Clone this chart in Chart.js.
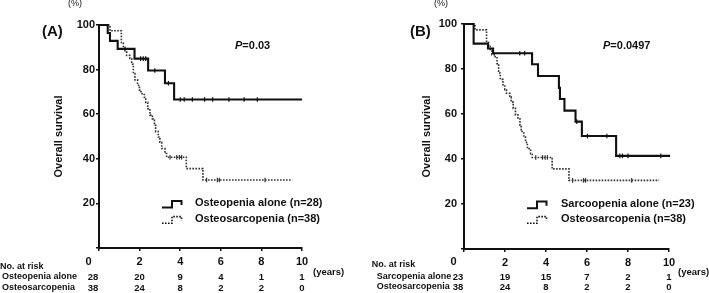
<!DOCTYPE html>
<html>
<head>
<meta charset="utf-8">
<script src="https://cdn.jsdelivr.net/npm/chart.js@4.4.1/dist/chart.umd.min.js"></script>
<style>
  body { margin: 0; background: #fff; }
  #wrap { position: relative; width: 709px; height: 293px; }
  canvas { position: absolute; top: 0; }
  #chartA { left: 0; }
  #chartB { left: 354px; }
</style>
</head>
<body>
<div id="wrap">
  <canvas id="chartA" width="354" height="293"></canvas>
  <canvas id="chartB" width="355" height="293"></canvas>
</div>
<script>
// years on the x axis
const tickYears = [0, 2, 4, 6, 8, 10];

// Osteopenia alone (n=28) - panel A solid
const osteopeniaTimes = [0, 0.43, 0.54, 0.92, 1.75, 2.42, 3.25, 3.7, 10.0];
const osteopeniaSurv  = [100, 96.4, 92.9, 89.3, 84.9, 79.6, 73.9, 66.6, 66.6];
const osteopeniaCensor = [2.05, 2.18, 2.3, 2.75, 3.42, 4.0, 4.2, 4.6, 5.2, 5.6, 6.4, 7.15, 7.8];

// Osteosarcopenia (n=38) - dotted in both panels
const osteosarcTimes = [0, 0.54, 1.1, 1.2, 1.28, 1.36, 1.52, 1.61, 1.69, 1.77, 1.9, 1.99, 2.07, 2.23,
                        2.3, 2.4, 2.51, 2.63, 2.73, 2.79, 2.92, 3.0, 3.09, 3.25, 3.33, 4.3, 5.12, 9.52];
const osteosarcSurv  = [100, 97.4, 91.8, 90.0, 88.0, 86.4, 85.0, 82.4, 78.2, 75.4, 73.0, 70.8, 69.2, 67.6,
                        65.3, 62.5, 59.6, 57.9, 55.0, 52.2, 49.8, 47.4, 44.6, 42.4, 40.7, 35.6, 30.5, 30.5];
const osteosarcCensor = [3.5, 3.83, 3.96, 4.07, 5.3, 5.83, 5.93, 8.18];

// Sarcopenia alone (n=23) - panel B solid
const sarcopeniaTimes = [0, 0.47, 1.17, 1.42, 3.32, 3.61, 4.63, 4.68, 4.9, 5.44, 5.75, 7.42, 10.05];
const sarcopeniaSurv  = [100, 91.3, 89.1, 87.0, 82.1, 76.9, 71.6, 66.7, 61.5, 56.6, 50.2, 41.4, 41.4];
const sarcopeniaCensor = [2.72, 2.96, 5.5, 6.02, 6.97, 7.6, 7.73, 8.0, 9.6];

// numbers at risk at tickYears
const riskOsteopenia = [28, 20, 9, 4, 1, 1];
const riskOsteosarc  = [38, 24, 8, 2, 2, 0];
const riskSarcopenia = [23, 19, 15, 7, 2, 1];

const FONT = '"Liberation Sans", Arial, sans-serif';
Chart.defaults.font.family = FONT;
Chart.defaults.font.weight = 'bold';
Chart.defaults.font.size = 11;
Chart.defaults.color = '#111';

function curve(times, surv) {
  return times.map((t, i) => ({ x: t, y: surv[i] }));
}

// censor marks sit on the curve level at that time
function censorPts(times, surv, cens) {
  return cens.map(c => {
    let s = surv[0];
    for (let i = 0; i < times.length; i++) if (times[i] <= c) s = surv[i];
    return { x: c, y: s };
  });
}

function kmDatasets(times, surv, cens, dashed) {
  const color = dashed ? '#333' : '#111';
  return [{
    data: curve(times, surv),
    stepped: true,
    borderColor: color,
    borderWidth: dashed ? 1.6 : 2.1,
    borderDash: dashed ? [1.6, 1.4] : [],
    pointRadius: 0,
    fill: false,
    clip: false
  }, {
    data: censorPts(times, surv, cens),
    showLine: false,
    pointStyle: 'line',
    rotation: 90,
    pointRadius: 2.3,
    borderWidth: 1.2,
    borderColor: color,
    clip: false
  }];
}

const panelText = {
  id: 'panelText',
  afterDraw(chart, args, o) {
    const ctx = chart.ctx;
    const xs = chart.scales.x;
    ctx.save();
    ctx.fillStyle = '#111';
    ctx.strokeStyle = '#111';
    ctx.textBaseline = 'middle';
    ctx.textAlign = 'left';

    ctx.font = 'bold 15px ' + FONT;
    ctx.fillText(o.label, o.labelX, 31.5);

    ctx.font = '9px ' + FONT;
    ctx.textAlign = 'center';
    ctx.fillText('(%)', o.pctX, 4);

    // p value
    ctx.textAlign = 'left';
    ctx.font = 'italic bold 11px ' + FONT;
    ctx.fillText('P', o.pX, 46);
    const pw = ctx.measureText('P').width;
    ctx.font = 'bold 11px ' + FONT;
    ctx.fillText(o.pText, o.pX + pw, 46);

    // legend
    o.legend.forEach((item, i) => {
      const cy = o.legendY[i];
      ctx.setLineDash(item.dashed ? [1.6, 1.4] : []);
      ctx.lineWidth = item.dashed ? 1.6 : 2;
      ctx.beginPath();
      ctx.moveTo(o.symX, cy + 4.3);
      ctx.lineTo(o.symX + 10, cy + 4.3);
      ctx.lineTo(o.symX + 10, cy - 2.4);
      ctx.lineTo(o.symX + 19.5, cy - 2.4);
      ctx.lineTo(o.symX + 19.5, cy + 1.8);
      ctx.stroke();
      ctx.setLineDash([]);
      ctx.font = 'bold 11px ' + FONT;
      ctx.fillText(item.text, o.legendX, cy);
    });

    // zero on x axis, shifted left of the origin
    ctx.font = 'bold 11px ' + FONT;
    ctx.textAlign = 'center';
    ctx.fillText('0', xs.getPixelForValue(0) - 10.5, 261.5);

    // numbers at risk
    ctx.textAlign = 'left';
    ctx.font = 'bold 9px ' + FONT;
    ctx.fillText('No. at risk', o.tableX, o.headY);
    o.rows.forEach((row, r) => {
      ctx.textAlign = 'left';
      ctx.font = 'bold 9px ' + FONT;
      ctx.fillText(row.name, o.tableX + o.nameIndent, o.rowY[r]);
      ctx.textAlign = 'center';
      ctx.font = 'bold 9.5px ' + FONT;
      row.risk.forEach((n, k) => {
        let px = xs.getPixelForValue(tickYears[k]);
        if (k === 0) px -= 6;
        ctx.fillText(String(n), px, o.rowY[r] + 1);
      });
    });
    ctx.textAlign = 'left';
    ctx.font = 'bold 9.5px ' + FONT;
    ctx.fillText('(years)', o.yearsX, 272.3);
    ctx.restore();
  }
};

function makeChart(id, sets, geo, text) {
  return new Chart(document.getElementById(id), {
    type: 'line',
    data: { datasets: sets },
    plugins: [panelText],
    options: {
      responsive: false,
      animation: false,
      layout: { padding: { left: 0, top: geo.top, right: geo.right, bottom: 0 } },
      scales: {
        x: {
          type: 'linear',
          min: 0,
          max: 10,
          afterFit: s => { s.height = geo.xHeight; },
          ticks: { stepSize: 2, padding: 4, callback: v => (v === 0 ? '' : v) },
          grid: { drawOnChartArea: false, tickLength: 3, color: '#111', lineWidth: 1.5 },
          border: { color: '#111', width: 2 }
        },
        y: {
          min: 0,
          max: 100,
          afterFit: s => { s.width = geo.yWidth; },
          ticks: { stepSize: 20, padding: geo.yPad, callback: v => (v === 0 ? '' : v) },
          grid: { drawOnChartArea: false, tickLength: 3, color: '#111', lineWidth: 1.5 },
          border: { color: '#111', width: 2 },
          title: { display: true, text: 'Overall survival', padding: { top: geo.titlePad, bottom: 0 },
                   font: { size: 11, weight: 'bold' } }
        }
      },
      plugins: {
        legend: { display: false },
        tooltip: { enabled: false },
        panelText: text
      }
    }
  });
}

makeChart('chartA',
  kmDatasets(osteopeniaTimes, osteopeniaSurv, osteopeniaCensor, false)
    .concat(kmDatasets(osteosarcTimes, osteosarcSurv, osteosarcCensor, true)),
  { top: 25, right: 52, xHeight: 45, yWidth: 99, yPad: 1, titlePad: 52 },
  {
    label: '(A)', labelX: 42, pctX: 75, pText: '=0.03', pX: 235,
    legend: [{ text: 'Osteopenia alone (n=28)', dashed: false }, { text: 'Osteosarcopenia (n=38)', dashed: true }],
    legendY: [203.3, 219], symX: 162, legendX: 195,
    tableX: 0, headY: 266.7, nameIndent: 2, rowY: [276.7, 287.5],
    rows: [{ name: 'Osteopenia alone', risk: riskOsteopenia }, { name: 'Osteosarcopenia', risk: riskOsteosarc }],
    yearsX: 313
  });

makeChart('chartB',
  kmDatasets(sarcopeniaTimes, sarcopeniaSurv, sarcopeniaCensor, false)
    .concat(kmDatasets(osteosarcTimes, osteosarcSurv, osteosarcCensor, true)),
  { top: 24, right: 40, xHeight: 44, yWidth: 110, yPad: 4, titlePad: 66 },
  {
    label: '(B)', labelX: 56, pctX: 87, pText: '=0.0497', pX: 249,
    legend: [{ text: 'Sarcoopenia alone (n=23)', dashed: false }, { text: 'Osteosarcopenia (n=38)', dashed: true }],
    legendY: [204, 219], symX: 173, legendX: 207,
    tableX: 17.7, headY: 265, nameIndent: 5, rowY: [276.7, 286.5],
    rows: [{ name: 'Sarcopenia alone', risk: riskSarcopenia }, { name: 'Osteosarcopenia', risk: riskOsteosarc }],
    yearsX: 324
  });
</script>
</body>
</html>
